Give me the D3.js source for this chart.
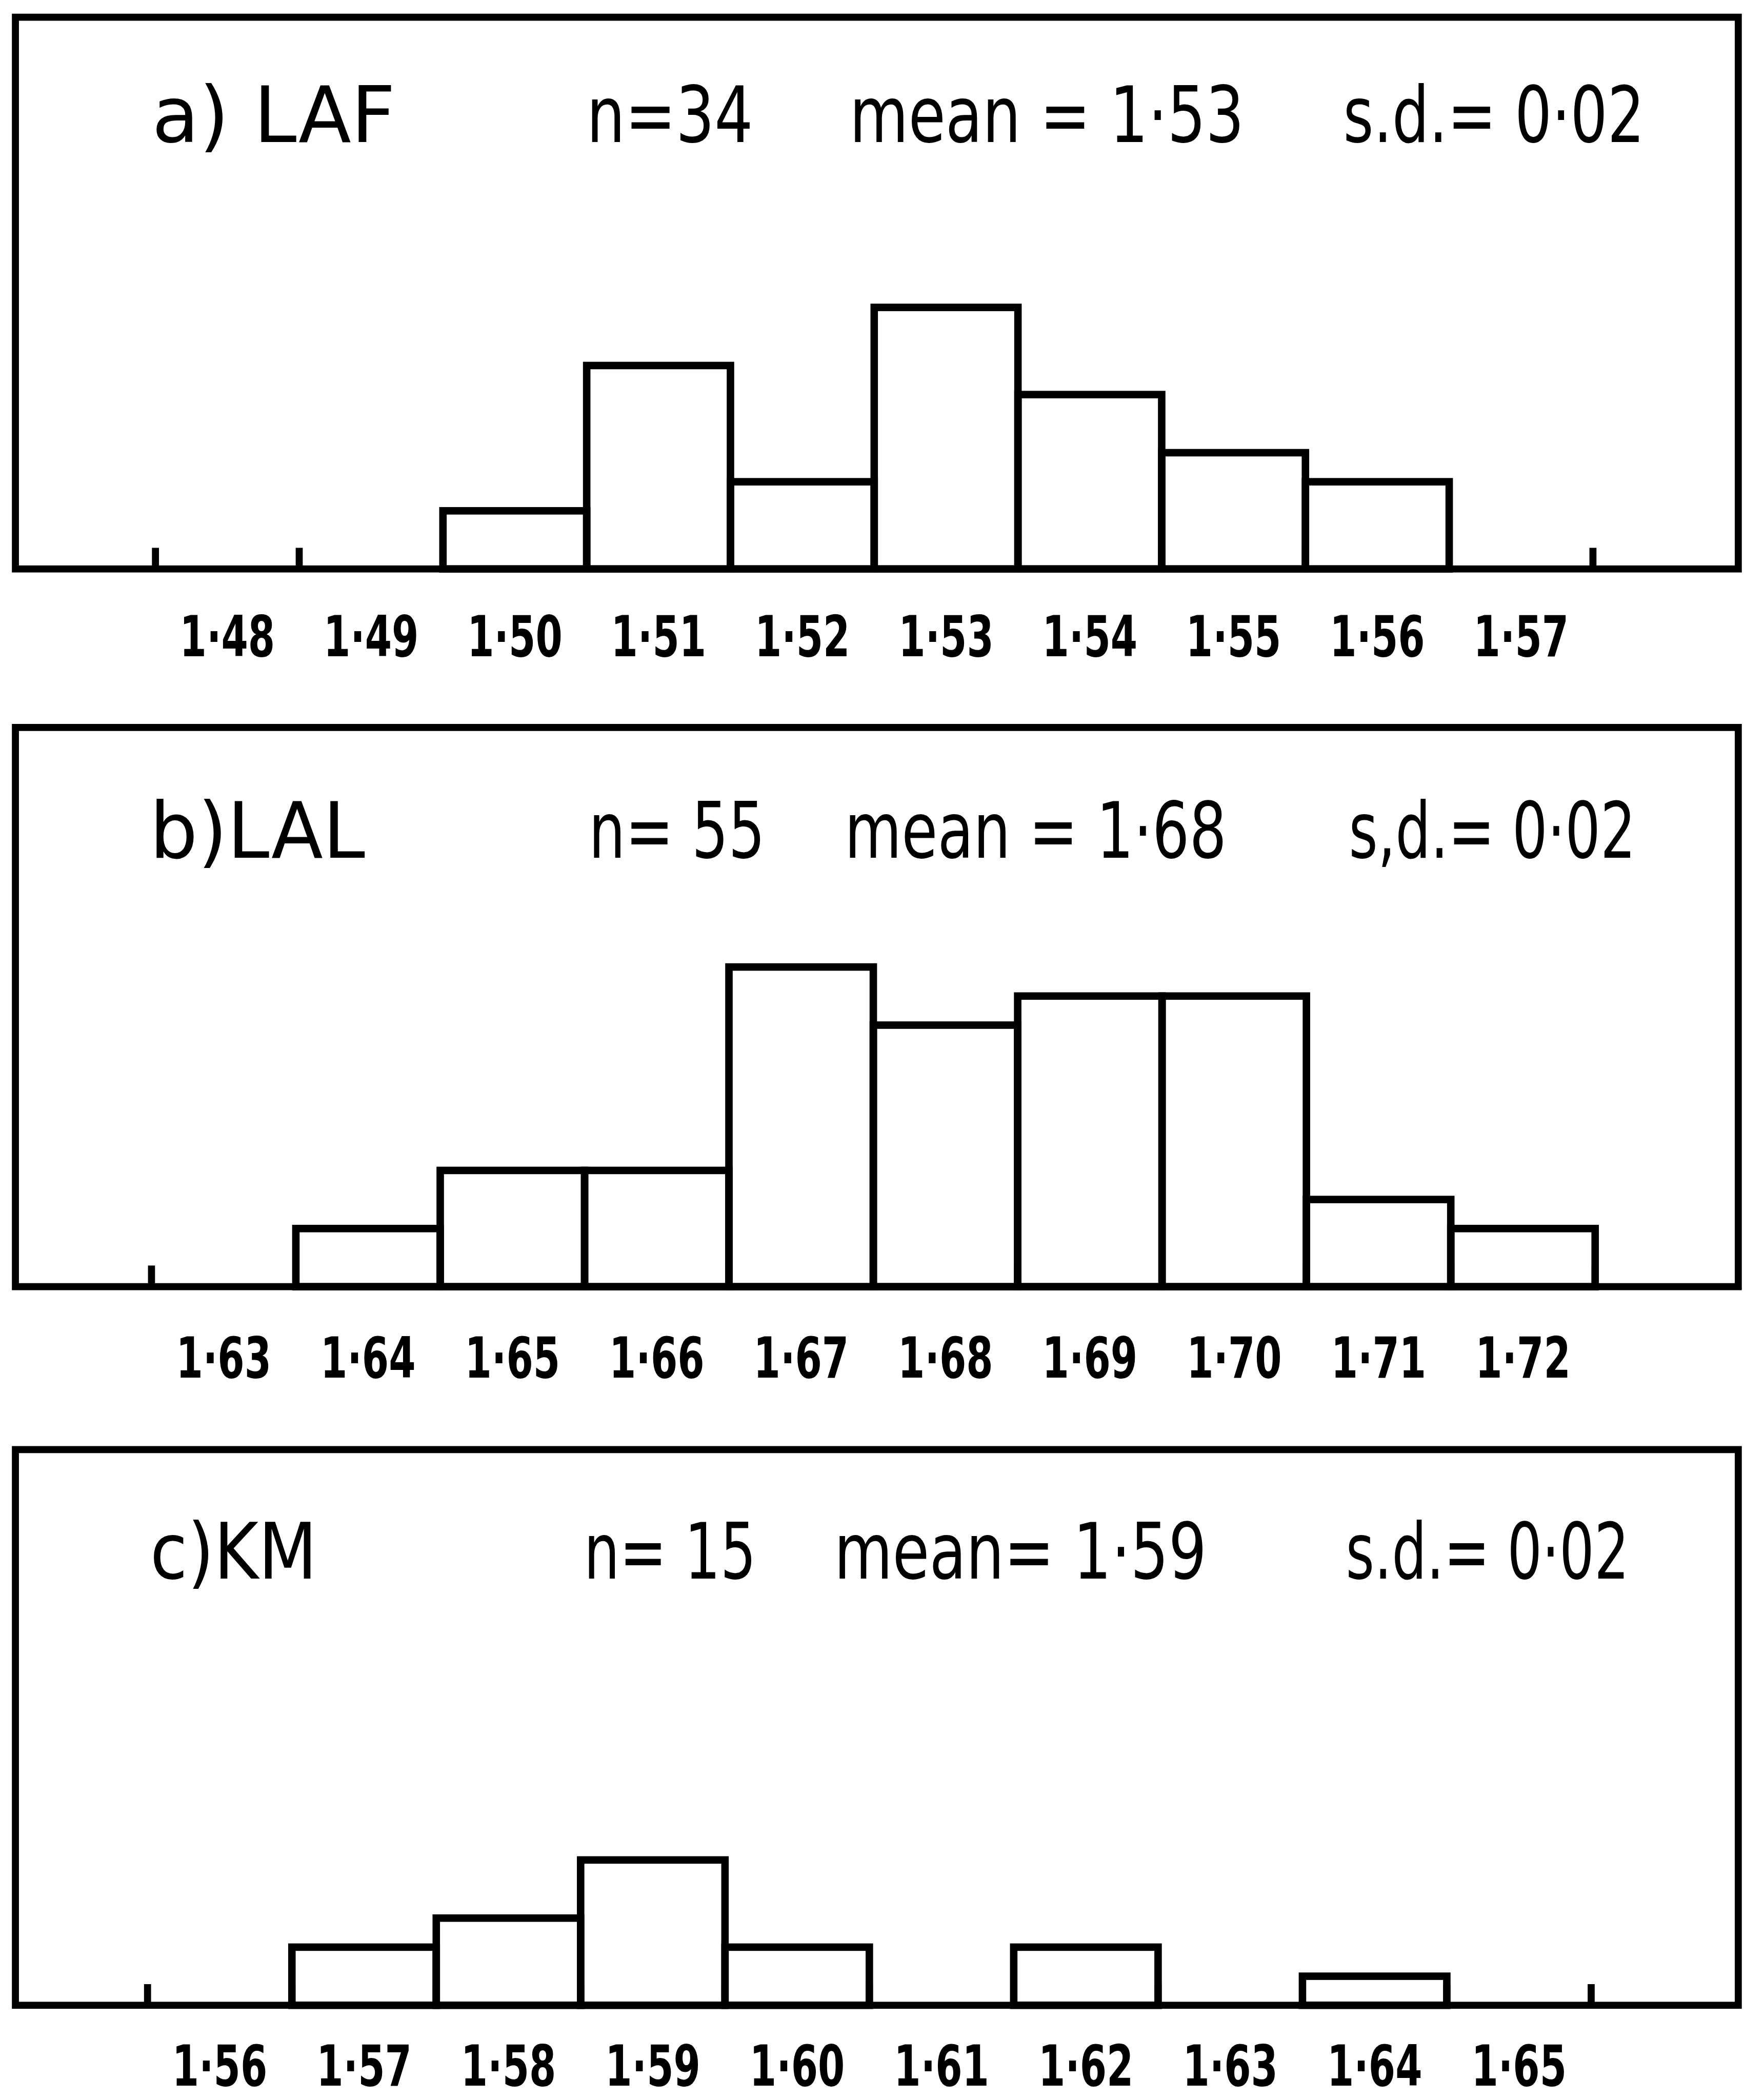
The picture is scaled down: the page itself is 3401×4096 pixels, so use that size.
<!DOCTYPE html>
<html>
<head>
<meta charset="utf-8">
<script src="https://cdn.jsdelivr.net/npm/d3@7"></script>
<style>
body { margin: 0; background: #ffffff; }
</style>
</head>
<body>
<script>
// full size of the original figure, drawn through the viewBox into the window
var fullWidth = 3960;
var fullHeight = 4769;

// Histogram bins (tick labels) and counts for the three panels
var binsA = ["1·48", "1·49", "1·50", "1·51", "1·52", "1·53", "1·54", "1·55", "1·56", "1·57"];
var countsA = [0, 0, 2, 7, 3, 9, 6, 4, 3, 0];

var binsB = ["1·63", "1·64", "1·65", "1·66", "1·67", "1·68", "1·69", "1·70", "1·71", "1·72"];
var countsB = [0, 2, 4, 4, 11, 9, 10, 10, 3, 2];

var binsC = ["1·56", "1·57", "1·58", "1·59", "1·60", "1·61", "1·62", "1·63", "1·64", "1·65"];
var countsC = [0, 2, 3, 5, 2, 0, 2, 0, 1, 0];

// Header texts
var panelNames = ["a) LAF", "b)LAL", "c)KM"];
var nTexts = ["n=34", "n= 55", "n= 15"];
var meanTexts = ["mean = 1·53", "mean = 1·68", "mean= 1·59"];
var sdTexts = ["s.d.= 0·02", "s,d.= 0·02", "s.d.= 0·02"];

// layout of each panel, in the original figure's pixels
var panels = [
	{ bins: binsA, counts: countsA, top: 39, bottom: 1292, titleY: 322, labelY: 1490, x0: 353, x1: 3617,
		titleX: [[345, 553], [1332, 378], [1929, 896], [3050, 684]] },
	{ bins: binsB, counts: countsB, top: 1652, bottom: 2922, titleY: 1948, labelY: 3128, x0: 344, x1: 3622,
		titleX: [[340, 489], [1337, 400], [1918, 867], [3063, 651]] },
	{ bins: binsC, counts: countsC, top: 3292, bottom: 4554, titleY: 3585, labelY: 4736, x0: 335, x1: 3613,
		titleX: [[341, 379], [1326, 391], [1894, 846], [3056, 643]] }
];

var boxLeft = 35;
var boxRight = 3947;
var unitHeight = 66;   // one count
var tickLength = 48;

var svg = d3.select("body").append("svg")
.attr("width", 3401)
.attr("height", 4096)
.attr("viewBox", "0 0 " + fullWidth + " " + fullHeight);

svg.append("rect")
.attr("width", fullWidth)
.attr("height", fullHeight)
.style("fill", "#ffffff");

panels.forEach(function (p, i) {
	var g = svg.append("g");

	var x = d3.scaleBand()
	.domain(p.bins)
	.range([p.x0, p.x1])
	.padding(0);

	var y = d3.scaleLinear()
	.domain([0, 10])
	.range([p.bottom, p.bottom - 10 * unitHeight]);

	// frame; its lower side is the axis line
	g.append("rect")
	.attr("x", boxLeft)
	.attr("y", p.top)
	.attr("width", boxRight - boxLeft)
	.attr("height", p.bottom - p.top)
	.style("fill", "none")
	.style("stroke", "#000")
	.style("stroke-width", 16);

	// ticks at every bin edge
	var edges = p.bins.map(function (b) { return x(b); }).concat([p.x1]);
	g.selectAll("line.tick")
	.data(edges)
	.enter().append("line")
	.attr("class", "tick")
	.attr("x1", function (d) { return d; })
	.attr("x2", function (d) { return d; })
	.attr("y1", p.bottom)
	.attr("y2", p.bottom - tickLength)
	.style("stroke", "#000")
	.style("stroke-width", 16);

	// bars
	var data = p.bins.map(function (b, j) { return { bin: b, count: p.counts[j] }; })
	.filter(function (d) { return d.count > 0; });

	g.selectAll("rect.bar")
	.data(data)
	.enter().append("rect")
	.attr("class", "bar")
	.attr("x", function (d) { return x(d.bin); })
	.attr("y", function (d) { return y(d.count); })
	.attr("width", x.bandwidth())
	.attr("height", function (d) { return p.bottom - y(d.count); })
	.style("fill", "none")
	.style("stroke", "#000")
	.style("stroke-width", 17);

	// bin labels
	var axis = g.append("g")
	.attr("transform", "translate(0," + p.bottom + ")")
	.call(d3.axisBottom(x).tickSize(0));
	axis.select(".domain").remove();
	axis.selectAll("text")
	.attr("y", p.labelY - p.bottom)
	.attr("dy", 0)
	.attr("textLength", 216)
	.attr("lengthAdjust", "spacingAndGlyphs")
	.style("font-family", "'DejaVu Sans Condensed', 'DejaVu Sans', sans-serif")
	.style("font-stretch", "condensed")
	.style("font-weight", "bold")
	.style("font-size", "128px")
	.style("fill", "#000");

	// header line
	var texts = [panelNames[i], nTexts[i], meanTexts[i], sdTexts[i]];
	g.selectAll("text.title")
	.data(texts)
	.enter().append("text")
	.attr("class", "title")
	.attr("x", function (d, j) { return p.titleX[j][0]; })
	.attr("y", p.titleY)
	.attr("textLength", function (d, j) { return p.titleX[j][1]; })
	.attr("lengthAdjust", "spacingAndGlyphs")
	.style("font-family", "'DejaVu Sans Condensed', 'DejaVu Sans', sans-serif")
	.style("font-stretch", "condensed")
	.style("font-size", "176px")
	.style("fill", "#000")
	.style("white-space", "pre")
	.text(function (d) { return d; });
});
</script>
</body>
</html>
